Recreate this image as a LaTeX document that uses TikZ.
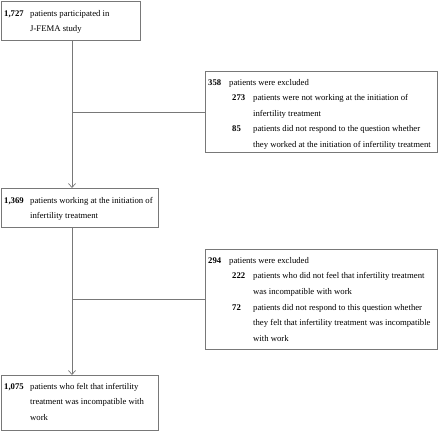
\documentclass[tikz,border=0pt]{standalone}
\usepackage{fontspec}
\setmainfont{Liberation Serif}
\usetikzlibrary{arrows.meta}
\definecolor{boxline}{RGB}{120,120,120}
\begin{document}
\begin{tikzpicture}[x=1pt,y=-1pt,
  box/.style={draw=boxline,line width=0.8pt,rectangle,inner sep=0pt,anchor=north west},
  txt/.style={inner sep=0pt,anchor=base west,font=\fontsize{8.7}{15.6}\selectfont},
  conn/.style={draw=boxline,line width=0.8pt},
  arr/.style={conn,-{Straight Barb[length=4pt,width=7pt,line width=0.7pt]}}]
\useasboundingbox (0,0) rectangle (440,431);
% boxes
\node[box,minimum width=139pt,minimum height=39pt] (b1) at (1,1) {};
\node[box,minimum width=232pt,minimum height=81pt] (b2) at (205,71) {};
\node[box,minimum width=157pt,minimum height=39pt] (b3) at (1,188) {};
\node[box,minimum width=232pt,minimum height=100pt] (b4) at (205,249) {};
\node[box,minimum width=157pt,minimum height=55pt] (b5) at (1,375) {};
\coordinate (colx) at (72,0);
% box 1 text
\node[txt] (n1) at (4,16.3) {\textbf{1,727}};
\node[txt] (t1a) at (30,16.3) {patients participated in};
\node[txt] (t1b) at (30,31.9) {J-FEMA study};
% box 2 text
\node[txt] (n2) at (208,85) {\textbf{358}};
\node[txt] (t2a) at (229,85) {patients were excluded};
\node[txt] (n2a) at (232,100.6) {\textbf{273}};
\node[txt] (t2b) at (253,100.6) {patients were not working at the initiation of};
\node[txt] (t2c) at (253,116.2) {infertility treatment};
\node[txt] (n2b) at (232,131.8) {\textbf{85}};
\node[txt] (t2d) at (253,131.8) {patients did not respond to the question whether};
\node[txt] (t2e) at (253,147.4) {they worked at the initiation of infertility treatment};
% box 3 text
\node[txt] (n3) at (4,203.3) {\textbf{1,369}};
\node[txt] (t3a) at (30,203.3) {patients working at the initiation of};
\node[txt] (t3b) at (30,218.9) {infertility treatment};
% box 4 text
\node[txt] (n4) at (208,263.3) {\textbf{294}};
\node[txt] (t4a) at (229,263.3) {patients were excluded};
\node[txt] (n4a) at (232,278.9) {\textbf{222}};
\node[txt] (t4b) at (253,278.9) {patients who did not feel that infertility treatment};
\node[txt] (t4c) at (253,294.5) {was incompatible with work};
\node[txt] (n4b) at (232,310.1) {\textbf{72}};
\node[txt] (t4d) at (253,310.1) {patients did not respond to this question whether};
\node[txt] (t4e) at (253,325.7) {they felt that infertility treatment was incompatible};
\node[txt] (t4f) at (253,341.3) {with work};
% box 5 text
\node[txt] (n5) at (4,389) {\textbf{1,075}};
\node[txt] (t5a) at (30,389) {patients who felt that infertility};
\node[txt] (t5b) at (30,404.6) {treatment was incompatible with};
\node[txt] (t5c) at (30,420.2) {work};
% connectors
\draw[arr] (b1.south -| colx) -- (b3.north -| colx);
\draw[arr] (b3.south -| colx) -- (b5.north -| colx);
\draw[conn] (b2.west) -- (b2.west -| colx);
\draw[conn] (b4.west) -- (b4.west -| colx);
\end{tikzpicture}
\end{document}
